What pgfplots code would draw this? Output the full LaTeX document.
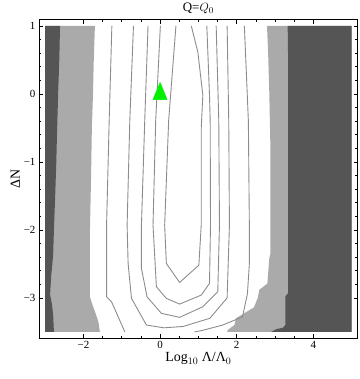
\documentclass[border=0pt]{standalone}
\usepackage{fontspec}
\setmainfont{Liberation Serif}
\usepackage{pgfplots}
\pgfplotsset{compat=1.18}
\definecolor{darkband}{RGB}{85,85,85}
\definecolor{lightband}{RGB}{170,170,170}
\definecolor{contour}{RGB}{140,140,140}
\definecolor{marker}{RGB}{0,240,0}
\begin{document}
\begin{tikzpicture}
\begin{axis}[
  scale only axis,
  width=319bp, height=318.5bp,
  xmin=-3.16, xmax=5.16, ymin=-3.59, ymax=1.09,
  axis line style={line width=0.8pt},
  xtick={-2,0,2,4}, xticklabels={−2,0,2,4},
  ytick={-3,-2,-1,0,1}, yticklabels={−3,−2,−1,0,1},
  minor x tick num=3, minor y tick num=4,
  tick align=inside,
  major tick length=4bp, minor tick length=2.5bp,
  tick style={black, line width=0.6pt},
  tick label style={font=\fontsize{11}{13}\selectfont},
  title={Q=$Q_0$},
  title style={font=\fontsize{13}{15}\selectfont, yshift=-4bp},
  xlabel={Log$_{10}$ Λ/Λ$_0$},
  ylabel={ΔN},
  label style={font=\fontsize{14}{16}\selectfont},
  xlabel style={yshift=3bp},
  ylabel style={yshift=-3bp},
  clip=true,
]
% light gray bands
\addplot[fill=lightband, draw=none] coordinates {
  (-3,1) (-1.70,1) (-1.73,0.5) (-1.75,0) (-1.78,-0.5) (-1.80,-1.2) (-1.83,-2.0)
  (-1.83,-2.98) (-1.79,-3.06) (-1.70,-3.20) (-1.61,-3.35) (-1.57,-3.5) (-3,-3.5)} -- cycle;
\addplot[fill=lightband, draw=none] coordinates {
  (2.79,1) (2.82,0.6) (2.85,0.03) (2.88,-0.8) (2.88,-2.35) (2.85,-2.42) (2.80,-2.79)
  (2.59,-2.88) (2.55,-3.0) (2.45,-3.14) (2.33,-3.18) (1.98,-3.30) (1.94,-3.40)
  (1.77,-3.47) (1.75,-3.5) (5,-3.5) (5,1)} -- cycle;
% dark gray bands
\addplot[fill=darkband, draw=none] coordinates {
  (-3,1) (-2.61,1) (-2.63,0.5) (-2.66,0) (-2.69,-0.6) (-2.71,-1.05) (-2.74,-1.55)
  (-2.77,-2.0) (-2.79,-2.37) (-2.84,-2.67) (-2.87,-2.95) (-2.82,-3.1) (-2.79,-3.25)
  (-2.77,-3.5) (-3,-3.5)} -- cycle;
\addplot[fill=darkband, draw=none] coordinates {
  (3.33,1) (3.34,0.55) (3.34,-2.93) (3.27,-2.98) (3.27,-3.40) (3.20,-3.44)
  (3.03,-3.46) (2.90,-3.5) (5,-3.5) (5,1)} -- cycle;
% contour lines
\addplot[contour, line width=0.9pt] coordinates {
  (0.414,1) (0.224,-0.393) (0.120,-1.933) (0.164,-2.494) (0.510,-2.773)
  (1.012,-2.519) (1.074,-1.933) (1.074,-0.51) (1.116,-0.02) (0.986,0.614) (0.814,1)};
\addplot[contour, line width=0.9pt] coordinates {
  (0.008,1) (-0.114,-0.393) (-0.184,-1.933) (-0.096,-2.837) (0.164,-3.007)
  (0.510,-3.091) (1.074,-2.959) (1.290,-2.787) (1.316,-1.933) (1.308,-0.393)
  (1.290,-0.022) (1.220,1)};
\addplot[contour, line width=0.9pt] coordinates {
  (-0.314,1) (-0.400,-0.393) (-0.486,-1.933) (-0.486,-2.567) (-0.340,-2.984)
  (0.034,-3.227) (0.510,-3.286) (1.116,-3.130) (1.506,-2.91) (1.550,-1.933)
  (1.532,-0.393) (1.464,1)};
\addplot[contour, line width=0.9pt] coordinates {
  (-0.694,1) (-0.790,-0.393) (-0.860,-1.933) (-0.834,-2.494) (-0.746,-3.007)
  (-0.356,-3.399) (0.1,-3.44) (0.6,-3.42) (1.3,-3.3) (1.75,-3.0) (1.81,-1.93)
  (1.792,-0.393) (1.750,1)};
\addplot[contour, line width=0.9pt] coordinates {
  (-1.258,1) (-1.328,-0.393) (-1.396,-1.933) (-1.396,-2.984) (-1.266,-3.057)
  (-0.92,-3.5)};
\addplot[contour, line width=0.9pt] coordinates {
  (2.200,1) (2.304,-0.393) (2.330,-1.933) (2.33,-2.5) (2.28,-2.94) (2.15,-3.28)
  (1.63,-3.40) (1.09,-3.48) (0.9,-3.5)};
% marker
\addplot[only marks, mark=triangle*, mark size=8.2bp, color=marker,
  mark options={yscale=1.4}] coordinates {(0,0)};
\end{axis}
\path[use as bounding box] (-39bp,-41bp) rectangle (321bp,338bp);
\end{tikzpicture}
\end{document}
